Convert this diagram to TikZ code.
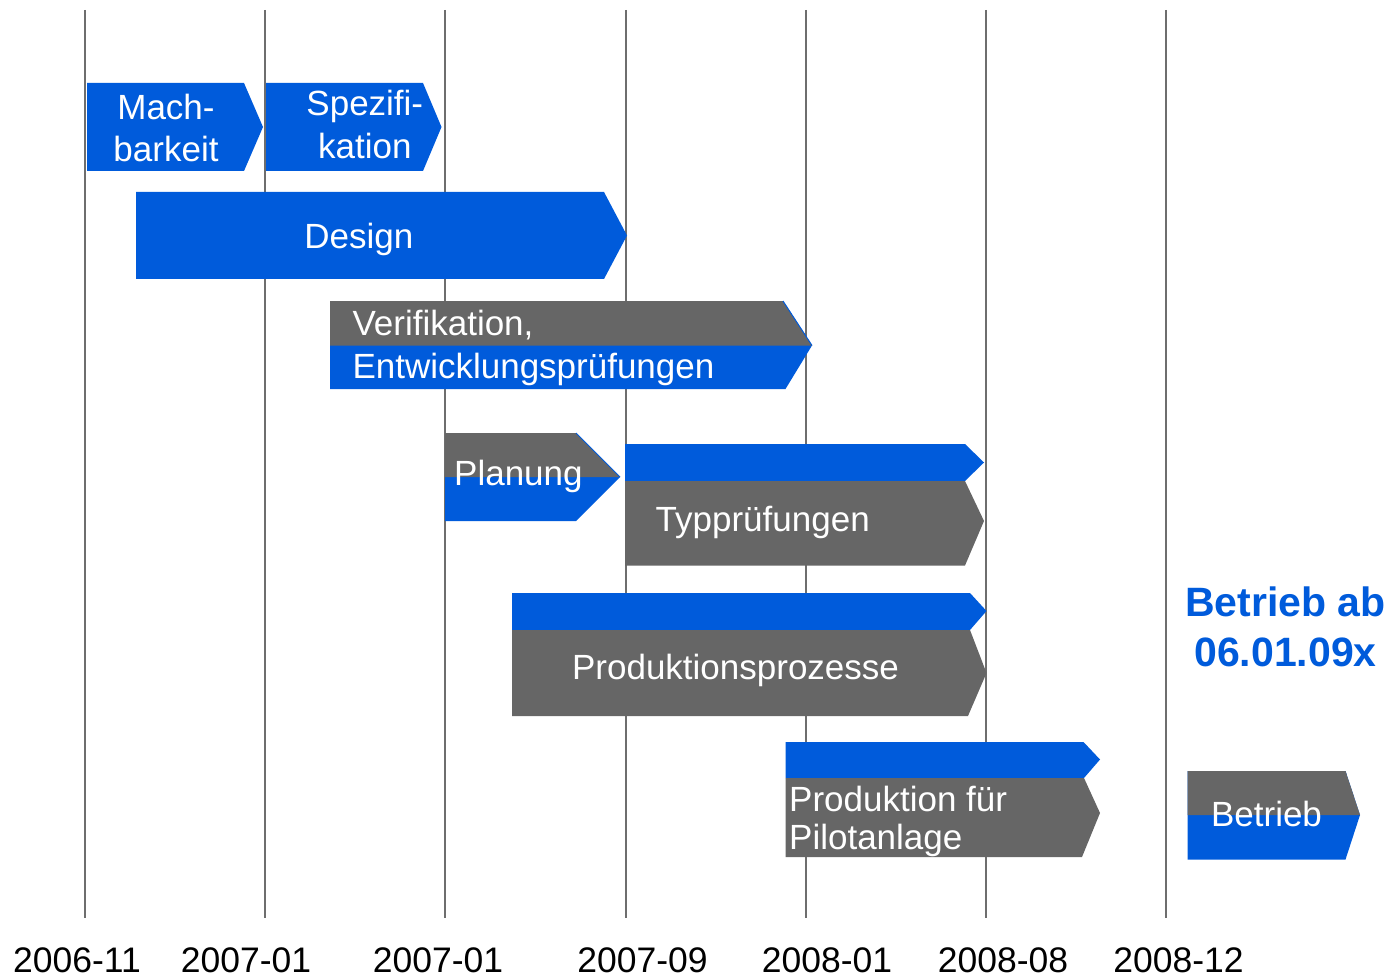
\documentclass[tikz,border=0pt]{standalone}
\usepackage{fontspec}
\setmainfont{Liberation Sans}
\definecolor{barblue}{RGB}{0,91,219}
\definecolor{bargray}{RGB}{102,102,102}
\definecolor{gridgray}{RGB}{110,110,110}
\begin{document}
\begin{tikzpicture}[x=1pt,y=-1pt,
  gridline/.style={draw=gridgray,line width=2.5pt},
  bluebar/.style={fill=barblue},
  graybar/.style={fill=bargray},
  bluedge/.style={draw=barblue,line width=1pt},
  barlabel/.style={text=white,inner sep=0pt,font=\fontsize{35}{42}\selectfont},
  datelabel/.style={text=black,inner sep=0pt,anchor=base,text depth=0pt,font=\fontsize{35.5}{40}\selectfont},
  note/.style={text=barblue,inner sep=0pt,anchor=base,align=center,font=\bfseries\fontsize{41}{50}\selectfont}]
\useasboundingbox (0,0) rectangle (1389,976);
% grid lines
\foreach \x in {85,265,445,626,806,986,1166}
  \draw[gridline] (\x,10) -- (\x,918);
% Machbarkeit
\fill[bluebar] (87,83) -- (244,83) -- (263,127) -- (244,171) -- (87,171) -- cycle;
% Spezifikation
\fill[bluebar] (266,83) -- (423,83) -- (441.5,127) -- (423,171) -- (266,171) -- cycle;
% Design
\fill[bluebar] (136,192) -- (604,192) -- (627,235.5) -- (604,279) -- (136,279) -- cycle;
% Verifikation
\fill[bluebar] (330,301) -- (783,301) -- (812,345.5) -- (785.5,389) -- (330,389) -- cycle;
\fill[graybar] (330,301) -- (783,301) -- (812,345.5) -- (330,345.5) -- cycle;
\draw[bluedge] (783,301) -- (812,345.5);
% Planung
\fill[bluebar] (445,433) -- (576,433) -- (620,477) -- (576,521) -- (445,521) -- cycle;
\fill[graybar] (445,433) -- (576,433) -- (620,477) -- (445,477) -- cycle;
\draw[bluedge] (576,433) -- (620,477);
% Typpruefungen
\fill[bluebar] (625,444) -- (965,444) -- (984,462.5) -- (965,481) -- (625,481) -- cycle;
\fill[graybar] (625,481) -- (965,481) -- (984,521) -- (965,565.5) -- (625,565.5) -- cycle;
% Produktionsprozesse
\fill[bluebar] (512,593) -- (970,593) -- (986.5,611) -- (970,630) -- (512,630) -- cycle;
\fill[graybar] (512,630) -- (970,630) -- (986.5,673) -- (968,716) -- (512,716) -- cycle;
% Produktion fuer Pilotanlage
\fill[bluebar] (785.5,742) -- (1083.5,742) -- (1100,759.5) -- (1084,778) -- (785.5,778) -- cycle;
\fill[graybar] (785.5,778) -- (1084,778) -- (1100,813) -- (1082,857) -- (785.5,857) -- cycle;
% Betrieb
\fill[bluebar] (1187.5,771) -- (1345.5,771) -- (1360,815) -- (1345.5,859.5) -- (1187.5,859.5) -- cycle;
\fill[graybar] (1187.5,771) -- (1345.5,771) -- (1360,815) -- (1187.5,815) -- cycle;
% labels (base anchor of a multi-line node = baseline of its last line)
\node[barlabel,anchor=base,align=center] (mach) at (166,161.3) {Mach-\\barkeit};
\node[barlabel,anchor=base,align=center,font=\fontsize{35}{43}\selectfont] (spez) at (364.8,158.3) {Spezifi-\\kation};
\node[barlabel,anchor=base] (design) at (358.8,249) {Design};
\node[barlabel,anchor=base west,align=left,font=\fontsize{35}{43}\selectfont] (verif) at (352.3,378.3) {Verifikation,\\Entwicklungsprüfungen};
\node[barlabel,anchor=base west] (plan) at (454,485.7) {Planung};
\node[barlabel,anchor=base west] (typ) at (655.5,531.7) {Typprüfungen};
\node[barlabel,anchor=base] (prozess) at (735.5,679) {Produktionsprozesse};
\node[barlabel,anchor=base west,align=left,font=\fontsize{35}{38}\selectfont] (pilot) at (789,849.3) {Produktion für\\Pilotanlage};
\node[barlabel,anchor=base] (betrieb) at (1266.5,826.7) {Betrieb};
\node[note] (start) at (1285.5,666.7) {Betrieb ab\\06.01.09x};
% dates
\node[datelabel] (d1) at (77,972) {2006-11};
\node[datelabel] (d2) at (246,972) {2007-01};
\node[datelabel] (d3) at (438,972) {2007-01};
\node[datelabel] (d4) at (642.6,972) {2007-09};
\node[datelabel] (d5) at (827,972) {2008-01};
\node[datelabel] (d6) at (1003,972) {2008-08};
\node[datelabel] (d7) at (1178.5,972) {2008-12};
\end{tikzpicture}
\end{document}
